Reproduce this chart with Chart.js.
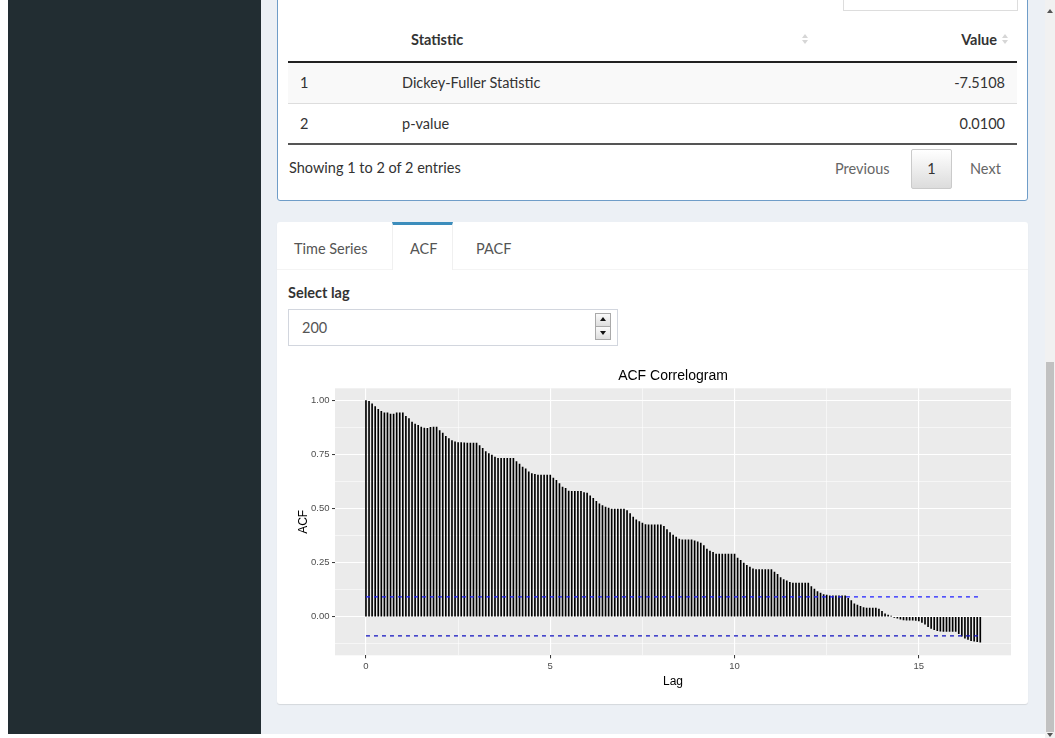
<!DOCTYPE html>
<html>
<head>
<meta charset="utf-8">
<title>ACF Correlogram</title>
<script src="https://cdn.jsdelivr.net/npm/chart.js@4.4.1/dist/chart.umd.min.js"></script>
<style>
    html, body { margin: 0; padding: 0; }
    body {
        width: 1055px; height: 738px; overflow: hidden; position: relative;
        background: #fff; font-family: Lato, "Noto Sans", sans-serif; font-size: 14.5px; color: #333;
    }
    .abs { position: absolute; }
    #sidebar { left: 8px; top: 0; width: 253px; height: 734px; background: #222d32; }
    #content { left: 261px; top: 0; width: 784px; height: 734px; background: #ecf0f5; }
    #scroll-track { left: 1045px; top: 0; width: 10px; height: 738px; background: #f1f1f1; }
    #scroll-thumb { left: 1046px; top: 362px; width: 8px; height: 370px; background: #c1c1c1; }
    .chev { width: 0; height: 0; border-left: 3px solid transparent; border-right: 3px solid transparent; }
    .box { background: #fff; border-radius: 3px; }
    #box1 { left: 277px; top: -20px; width: 749px; height: 219px; border: 1px solid #6f9dc8; }
    #box2 { left: 277px; top: 222px; width: 751px; height: 482px; box-shadow: 0 1px 1px rgba(0,0,0,0.1); }
    .txt { height: 20px; line-height: 20px; white-space: nowrap; }
    .bold { font-weight: bold; color: #333; }
    .right { text-align: right; }
    .sort { width: 8px; height: 12px; }
    .sort i { position: absolute; left: 1px; width: 0; height: 0; border-left: 3px solid transparent; border-right: 3px solid transparent; }
    .sort .up { top: 0; border-bottom: 4px solid #d6d6d6; }
    .sort .dn { top: 6px; border-top: 4px solid #d6d6d6; }
    .pg { color: #666; }
    #pg-btn { left: 911px; top: 149px; width: 39px; height: 38px; border: 1px solid #cacaca; border-radius: 2px;
        background: linear-gradient(#fff, #dcdcdc); text-align: center; line-height: 38px; color: #333; }
    .tab { color: #555; }
    #tab-active { left: 392px; top: 222px; width: 59px; height: 45px; border-top: 3px solid #3c8dbc;
        border-left: 1px solid #f0f0f0; border-right: 1px solid #f0f0f0; background: #fff; }
    #lag-input { left: 288px; top: 309px; width: 328px; height: 35px; border: 1px solid #d2d6de; background: #fff; }
    .spin { left: 595px; width: 14px; height: 12px; border: 1px solid #a9a9a9; background: linear-gradient(#fafafa, #dedede); }
    .spin i { position: absolute; left: 4px; width: 0; height: 0; border-left: 3px solid transparent; border-right: 3px solid transparent; }
    #acfChart { position: absolute; left: 288px; top: 360px; }
</style>
</head>
<body>
<div id="sidebar" class="abs"></div>
<div id="content" class="abs"></div>

<!-- table box -->
<div id="box1" class="abs box"></div>
<div class="abs" style="left:843px; top:-10px; width:173px; height:20px; border:1px solid #ddd; border-top:none; background:#fff;"></div>
<div class="abs txt bold" style="left:411px; top:30px;">Statistic</div>
<div class="abs sort" style="left:801px; top:34px;"><i class="up"></i><i class="dn"></i></div>
<div class="abs txt bold right" style="left:900px; width:97px; top:30px;">Value</div>
<div class="abs sort" style="left:1001px; top:34px;"><i class="up"></i><i class="dn"></i></div>
<div class="abs" style="left:288px; top:61px; width:729px; height:2px; background:#222;"></div>
<div class="abs" style="left:288px; top:63px; width:729px; height:40px; background:#f9f9f9;"></div>
<div class="abs" style="left:288px; top:103px; width:729px; height:1px; background:#ddd;"></div>
<div class="abs" style="left:288px; top:143px; width:729px; height:2px; background:#555;"></div>
<div class="abs txt" style="left:300px; top:73px;">1</div>
<div class="abs txt" style="left:402px; top:73px;">Dickey-Fuller Statistic</div>
<div class="abs txt right" style="left:900px; width:105px; top:73px;">-7.5108</div>
<div class="abs txt" style="left:300px; top:114px;">2</div>
<div class="abs txt" style="left:402px; top:114px;">p-value</div>
<div class="abs txt right" style="left:900px; width:105px; top:114px;">0.0100</div>
<div class="abs txt" style="left:289px; top:158px;">Showing 1 to 2 of 2 entries</div>
<div class="abs txt pg" style="left:835px; top:159px;">Previous</div>
<div id="pg-btn" class="abs">1</div>
<div class="abs txt pg" style="left:970px; top:159px;">Next</div>

<!-- tab box -->
<div id="box2" class="abs box"></div>
<div class="abs" style="left:277px; top:269px; width:751px; height:1px; background:#f4f4f4;"></div>
<div id="tab-active" class="abs"></div>
<div class="abs txt tab" style="left:294px; top:239px;">Time Series</div>
<div class="abs txt tab" style="left:410px; top:239px;">ACF</div>
<div class="abs txt tab" style="left:476px; top:239px;">PACF</div>
<div class="abs txt bold" style="left:288px; top:283px;">Select lag</div>
<div id="lag-input" class="abs"></div>
<div class="abs txt" style="left:302px; top:318px; color:#555;">200</div>
<div class="abs spin" style="top:313px;"><i style="top:3px; border-bottom:4px solid #111;"></i></div>
<div class="abs spin" style="top:326px;"><i style="top:4px; border-top:4px solid #111;"></i></div>

<canvas id="acfChart" width="732" height="340"></canvas>

<div id="scroll-track" class="abs"></div>
<div id="scroll-thumb" class="abs"></div>
<div class="abs chev" style="left:1047px; top:9px; border-bottom:4px solid #555;"></div>
<div class="abs chev" style="left:1047px; top:733px; border-top:4px solid #555;"></div>

<script>
// ACF values, lag 0..200 (monthly series, lag shown in years)
var acfValues = [
    1.000, 0.997, 0.985, 0.972, 0.960, 0.951, 0.944, 0.943, 0.938, 0.938, 0.943, 0.943,
    0.943, 0.927, 0.917, 0.901, 0.892, 0.886, 0.878, 0.873, 0.872, 0.877, 0.878, 0.878,
    0.861, 0.850, 0.835, 0.824, 0.815, 0.809, 0.806, 0.806, 0.805, 0.804, 0.804, 0.804,
    0.804, 0.792, 0.779, 0.764, 0.755, 0.748, 0.739, 0.733, 0.733, 0.733, 0.733, 0.733,
    0.733, 0.718, 0.707, 0.693, 0.684, 0.671, 0.662, 0.659, 0.656, 0.656, 0.656, 0.656,
    0.656, 0.642, 0.631, 0.616, 0.600, 0.594, 0.582, 0.580, 0.580, 0.580, 0.580, 0.575,
    0.572, 0.560, 0.548, 0.534, 0.523, 0.514, 0.508, 0.503, 0.498, 0.498, 0.498, 0.498,
    0.498, 0.491, 0.477, 0.461, 0.449, 0.441, 0.434, 0.427, 0.426, 0.426, 0.426, 0.426,
    0.426, 0.418, 0.403, 0.390, 0.378, 0.369, 0.360, 0.356, 0.356, 0.356, 0.356, 0.352,
    0.347, 0.341, 0.330, 0.313, 0.304, 0.298, 0.290, 0.290, 0.290, 0.290, 0.290, 0.290,
    0.290, 0.272, 0.261, 0.249, 0.238, 0.230, 0.222, 0.218, 0.218, 0.218, 0.218, 0.218,
    0.218, 0.207, 0.196, 0.182, 0.172, 0.166, 0.160, 0.156, 0.156, 0.156, 0.156, 0.156,
    0.156, 0.140, 0.128, 0.117, 0.110, 0.103, 0.100, 0.097, 0.097, 0.097, 0.097, 0.097,
    0.097, 0.086, 0.075, 0.060, 0.054, 0.048, 0.043, 0.040, 0.040, 0.040, 0.040, 0.036,
    0.025, 0.014, 0.008, 0.003, -0.002, -0.006, -0.011, -0.014, -0.015, -0.015, -0.016, -0.017,
    -0.019, -0.026, -0.034, -0.045, -0.054, -0.060, -0.064, -0.066, -0.067, -0.067, -0.067, -0.067,
    -0.067, -0.078, -0.090, -0.099, -0.105, -0.110, -0.113, -0.115, -0.117
];
var lagsPerYear = 12;
var lags = acfValues.map(function (v, i) { return i / lagsPerYear; });

var ciBounds = [0.092, -0.088];

var xMajorTicks = [0, 5, 10, 15];
var xMinorTicks = [2.5, 7.5, 12.5];
var yMajorTicks = [0, 0.25, 0.5, 0.75, 1];
var yMinorTicks = [-0.125, 0.125, 0.375, 0.625, 0.875];

(function () {
    var canvas = document.getElementById('acfChart');
    var ctx = canvas.getContext('2d');

    function isMajor(list, v) {
        return list.some(function (m) { return Math.abs(m - v) < 1e-9; });
    }
    function tickList(major, minor) {
        return major.concat(minor).sort(function (a, b) { return a - b; })
            .map(function (v) { return { value: v }; });
    }

    var panelBg = {
        id: 'panelBg',
        beforeDraw: function (chart) {
            var a = chart.chartArea;
            chart.ctx.save();
            chart.ctx.fillStyle = '#ebebeb';
            chart.ctx.fillRect(a.left, a.top, a.right - a.left, a.bottom - a.top);
            chart.ctx.restore();
        }
    };

    var tickFont = { family: '"Liberation Sans", Arial, sans-serif', size: 9.5 };
    var maxLag = lags[lags.length - 1];

    function gridOpts(major) {
        return {
            color: '#ffffff',
            lineWidth: function (c) { return c.tick && isMajor(major, c.tick.value) ? 1.1 : 0.55; },
            tickColor: function (c) { return c.tick && isMajor(major, c.tick.value) ? '#333333' : 'rgba(0,0,0,0)'; },
            tickWidth: 1,
            tickLength: 3,
            offset: false
        };
    }

    new Chart(ctx, {
        type: 'bar',
        data: {
            datasets: [{
                type: 'bar',
                data: acfValues.map(function (v, i) { return { x: lags[i], y: v }; }),
                backgroundColor: '#000000',
                barThickness: 1,
                order: 2
            }, {
                type: 'line',
                data: [{ x: 0, y: ciBounds[0] }, { x: maxLag, y: ciBounds[0] }],
                borderColor: '#1f1fff',
                borderWidth: 1.2,
                borderDash: [4, 4],
                pointRadius: 0,
                fill: false,
                order: 1
            }, {
                type: 'line',
                data: [{ x: 0, y: ciBounds[1] }, { x: maxLag, y: ciBounds[1] }],
                borderColor: '#1010c0',
                borderWidth: 1.1,
                borderDash: [4, 4],
                pointRadius: 0,
                fill: false,
                order: 1
            }]
        },
        options: {
            responsive: false,
            animation: false,
            layout: { padding: { left: 0, right: 9, top: 0, bottom: 0 } },
            plugins: {
                legend: { display: false },
                tooltip: { enabled: false },
                title: {
                    display: true,
                    text: 'ACF Correlogram',
                    fullSize: false,
                    color: '#000',
                    font: { family: '"Liberation Sans", Arial, sans-serif', size: 14, weight: 'normal' },
                    padding: { top: 7.6, bottom: 3.9 }
                }
            },
            scales: {
                x: {
                    type: 'linear',
                    min: -0.84,
                    max: 17.5,
                    offset: false,
                    afterBuildTicks: function (axis) { axis.ticks = tickList(xMajorTicks, xMinorTicks); },
                    afterFit: function (axis) { axis.height = 44.7; },
                    grid: gridOpts(xMajorTicks),
                    border: { display: false },
                    ticks: {
                        autoSkip: false,
                        maxRotation: 0,
                        padding: 2.5,
                        color: '#4d4d4d',
                        font: tickFont,
                        callback: function (v) { return isMajor(xMajorTicks, v) ? String(v) : ''; }
                    },
                    title: {
                        display: true,
                        text: 'Lag',
                        color: '#000',
                        font: { family: '"Liberation Sans", Arial, sans-serif', size: 12 },
                        padding: { top: 0, bottom: 11.1 }
                    }
                },
                y: {
                    type: 'linear',
                    min: -0.178,
                    max: 1.057,
                    afterBuildTicks: function (axis) { axis.ticks = tickList(yMajorTicks, yMinorTicks); },
                    afterFit: function (axis) { axis.width = 47; },
                    grid: gridOpts(yMajorTicks),
                    border: { display: false },
                    ticks: {
                        autoSkip: false,
                        padding: 2.5,
                        color: '#4d4d4d',
                        font: tickFont,
                        callback: function (v) { return isMajor(yMajorTicks, v) ? v.toFixed(2) : ''; }
                    },
                    title: {
                        display: true,
                        text: 'ACF',
                        color: '#000',
                        font: { family: '"Liberation Sans", Arial, sans-serif', size: 12 },
                        padding: { top: 8, bottom: 0 }
                    }
                }
            }
        },
        plugins: [panelBg]
    });
})();
</script>
</body>
</html>
